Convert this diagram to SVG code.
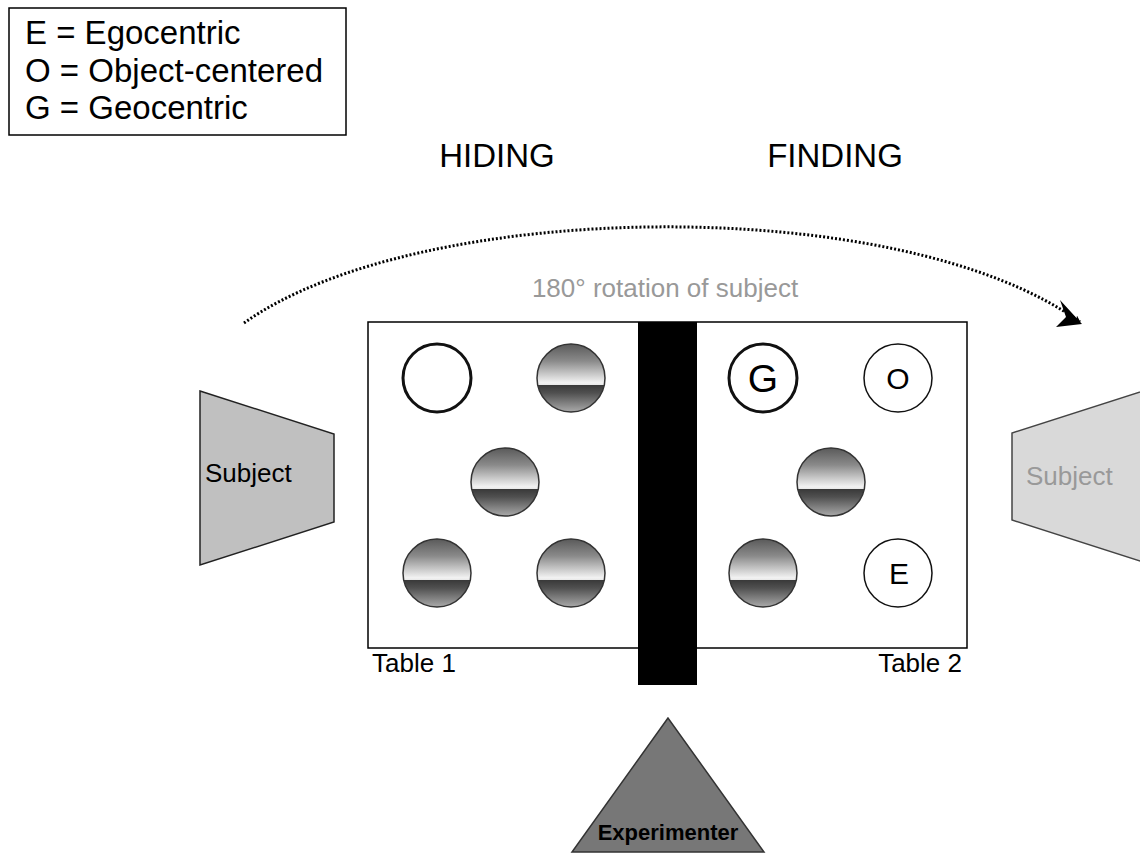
<svg xmlns="http://www.w3.org/2000/svg" width="1140" height="854" viewBox="0 0 1140 854">
<style>
text{font-family:"Liberation Sans",Arial,sans-serif;fill:#000}
.ball{fill:url(#bg);stroke:#333;stroke-width:1.5}
.empty{fill:#fff;stroke:#111;stroke-width:1.5}
.thick{stroke-width:3}
</style>
<defs>
<linearGradient id="bg" x1="0" y1="0" x2="0" y2="1">
<stop offset="0" stop-color="#5a5a5a"/>
<stop offset="0.25" stop-color="#8a8a8a"/>
<stop offset="0.57" stop-color="#f2f2f2"/>
<stop offset="0.6" stop-color="#e8e8e8"/>
<stop offset="0.61" stop-color="#3a3a3a"/>
<stop offset="0.72" stop-color="#505050"/>
<stop offset="1" stop-color="#aaaaaa"/>
</linearGradient>
<marker id="ah" viewBox="0 0 10 10" refX="9" refY="5" markerWidth="7" markerHeight="7" orient="auto" markerUnits="userSpaceOnUse">
<path d="M0,0 L10,5 L0,10 L3,5 z" fill="#000"/>
</marker>
</defs>
<rect width="1140" height="854" fill="#fff"/>

<g id="legend">
<rect x="9" y="8" width="337" height="127" fill="#fff" stroke="#000" stroke-width="1.5"/>
<text x="25" y="44" font-size="33">E = Egocentric</text>
<text x="25" y="82" font-size="33">O = Object-centered</text>
<text x="25" y="119" font-size="33">G = Geocentric</text>
</g>

<g id="titles">
<text x="497" y="167" font-size="33" text-anchor="middle">HIDING</text>
<text x="835" y="167" font-size="33" text-anchor="middle">FINDING</text>
</g>

<g id="connectors">
<path d="M244,323 C420,198 900,192 1080,322" fill="none" stroke="#000" stroke-width="3" stroke-dasharray="2 2" marker-end="url(#ah)"/>
<path d="M1060,300 L1082,324 L1056,327 L1066,317 z" fill="#000"/>
<text x="665" y="297" font-size="26" text-anchor="middle" style="fill:#999">180° rotation of subject</text>
</g>

<g id="table">
<rect x="368" y="322" width="599" height="326" fill="#fff" stroke="#000" stroke-width="1.5"/>
<text x="372" y="672" font-size="26">Table 1</text>
<text x="962" y="672" font-size="26" text-anchor="end">Table 2</text>
</g>

<g id="table1-circles">
<circle class="empty thick" cx="437" cy="378" r="34"/>
<circle class="ball" cx="571" cy="378" r="34"/>
<circle class="ball" cx="505" cy="482" r="34"/>
<circle class="ball" cx="437" cy="573" r="34"/>
<circle class="ball" cx="571" cy="573" r="34"/>
</g>

<g id="table2-circles">
<circle class="empty thick" cx="763" cy="378" r="34"/>
<text x="763" y="392" font-size="39" text-anchor="middle">G</text>
<circle class="empty" cx="898" cy="378" r="34"/>
<text x="898" y="389" font-size="30" text-anchor="middle">O</text>
<circle class="ball" cx="831" cy="482" r="34"/>
<circle class="ball" cx="763" cy="573" r="34"/>
<circle class="empty" cx="898" cy="573" r="34"/>
<text x="899" y="584" font-size="30" text-anchor="middle">E</text>
</g>

<g id="divider">
<rect x="638" y="322" width="59" height="363" fill="#000"/>
</g>

<g id="subject-left">
<polygon points="200,391 334,434 334,522 200,565" fill="#c0c0c0" stroke="#222" stroke-width="1.5"/>
<text x="205" y="482" font-size="26">Subject</text>
</g>

<g id="subject-right">
<polygon points="1146,390 1012,433 1012,520 1146,563" fill="#d9d9d9" stroke="#444" stroke-width="1.5"/>
<text x="1026" y="485" font-size="26" style="fill:#999">Subject</text>
</g>

<g id="experimenter">
<polygon points="668,718 572,852 764,852" fill="#777" stroke="#333" stroke-width="1.5"/>
<text x="668" y="840" font-size="22" font-weight="bold" text-anchor="middle">Experimenter</text>
</g>
</svg>
